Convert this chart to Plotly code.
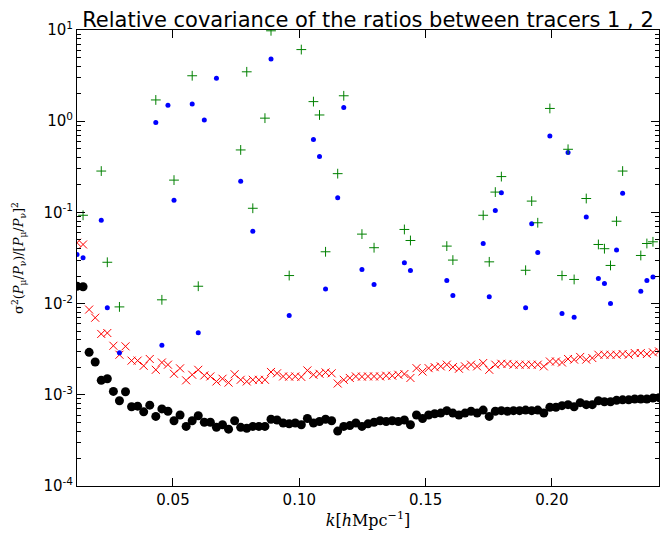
import plotly.graph_objects as go

# Wavenumber bins [h/Mpc]
k = [0.0120, 0.0144, 0.0168, 0.0192, 0.0216, 0.0240, 0.0264, 0.0288, 0.0312, 0.0336,
     0.0360, 0.0384, 0.0408, 0.0432, 0.0456, 0.0480, 0.0504, 0.0528, 0.0552, 0.0576,
     0.0600, 0.0624, 0.0648, 0.0672, 0.0696, 0.0720, 0.0744, 0.0768, 0.0792, 0.0816,
     0.0840, 0.0864, 0.0888, 0.0912, 0.0936, 0.0960, 0.0984, 0.1008, 0.1032, 0.1056,
     0.1080, 0.1104, 0.1128, 0.1152, 0.1176, 0.1200, 0.1224, 0.1248, 0.1272, 0.1296,
     0.1320, 0.1344, 0.1368, 0.1392, 0.1416, 0.1440, 0.1464, 0.1488, 0.1512, 0.1536,
     0.1560, 0.1584, 0.1608, 0.1632, 0.1656, 0.1680, 0.1704, 0.1728, 0.1752, 0.1776,
     0.1800, 0.1824, 0.1848, 0.1872, 0.1896, 0.1920, 0.1944, 0.1968, 0.1992, 0.2016,
     0.2040, 0.2064, 0.2088, 0.2112, 0.2136, 0.2160, 0.2184, 0.2208, 0.2232, 0.2256,
     0.2280, 0.2304, 0.2328, 0.2352, 0.2376, 0.2400, 0.2424]

# Relative variance of the ratio (black circles)
var_black = [0.0155, 0.0153, 0.00292, 0.00229, 0.00144, 0.00150, 0.00109, 0.00086, 0.00108, 0.00074,
             0.00075, 0.00065, 0.00077, 0.00058, 0.00070, 0.00066, 0.00052, 0.00060, 0.00045, 0.00052,
             0.00059, 0.00050, 0.00050, 0.00044, 0.00047, 0.00042, 0.00052, 0.00044, 0.00043, 0.00045,
             0.00045, 0.00045, 0.00054, 0.00053, 0.00049, 0.00048, 0.00049, 0.00047, 0.00055, 0.00049,
             0.00051, 0.00054, 0.00052, 0.00040, 0.00045, 0.00046, 0.00049, 0.00045, 0.00048, 0.00050,
             0.00052, 0.00051, 0.00052, 0.00051, 0.00053, 0.00047, 0.00060, 0.00055, 0.00060, 0.00062,
             0.00063, 0.00067, 0.00063, 0.00060, 0.00063, 0.00066, 0.00063, 0.00068, 0.00058, 0.00066,
             0.00067, 0.00066, 0.00067, 0.00067, 0.00068, 0.00067, 0.00068, 0.00063, 0.00073, 0.00073,
             0.00076, 0.00078, 0.00074, 0.00082, 0.00078, 0.00078, 0.00086, 0.00084, 0.00084, 0.00087,
             0.00088, 0.00088, 0.00090, 0.00090, 0.00090, 0.00092, 0.00093]

# Second estimator (red crosses)
var_red = [0.0465, 0.0445, 0.0086, 0.0070, 0.00465, 0.00476, 0.00345, 0.00275, 0.00340, 0.00237,
           0.00237, 0.00208, 0.00247, 0.00188, 0.00226, 0.00214, 0.00170, 0.00195, 0.00144, 0.00166,
           0.00188, 0.00163, 0.00159, 0.00140, 0.00150, 0.00136, 0.00168, 0.00146, 0.00140, 0.00146,
           0.00146, 0.00146, 0.00178, 0.00172, 0.00159, 0.00158, 0.00159, 0.00157, 0.00185, 0.00166,
           0.00170, 0.00176, 0.00172, 0.00133, 0.00146, 0.00153, 0.00159, 0.00158, 0.00159, 0.00159,
           0.00159, 0.00162, 0.00162, 0.00166, 0.00169, 0.00153, 0.00196, 0.00180, 0.00196, 0.00201,
           0.00205, 0.00214, 0.00201, 0.00193, 0.00205, 0.00214, 0.00205, 0.00223, 0.00188, 0.00214,
           0.00219, 0.00218, 0.00214, 0.00214, 0.00214, 0.00214, 0.00214, 0.00205, 0.00232, 0.00232,
           0.00226, 0.00247, 0.00243, 0.00260, 0.00243, 0.00253, 0.00275, 0.00275, 0.00275, 0.00275,
           0.00280, 0.00275, 0.00287, 0.00287, 0.00280, 0.00292, 0.00299]

# Off-diagonal terms, positive values only (blue dots)
k_blue = [0.0120, 0.0144, 0.0216, 0.0240, 0.0288, 0.0432, 0.0456, 0.0480, 0.0504, 0.0576,
          0.0600, 0.0624, 0.0672, 0.0768, 0.0816, 0.0888, 0.0960, 0.1056, 0.1080, 0.1104,
          0.1152, 0.1176, 0.1248, 0.1296, 0.1416, 0.1440, 0.1584, 0.1608, 0.1728, 0.1752,
          0.1776, 0.1800, 0.1896, 0.1920, 0.1944, 0.1992, 0.2040, 0.2064, 0.2088, 0.2136,
          0.2184, 0.2208, 0.2232, 0.2256, 0.2280, 0.2352, 0.2376, 0.2400]
cov_blue = [0.0346, 0.0318, 0.082, 0.0090, 0.0029, 0.97, 0.0035, 1.50, 0.136, 1.54,
            0.0048, 1.03, 2.95, 0.22, 0.062, 4.8, 0.0074, 0.63, 0.41, 0.0145,
            0.145, 1.41, 0.0236, 0.0162, 0.028, 0.0231, 0.0179, 0.0123, 0.0456, 0.0119,
            0.105, 0.164, 0.0090, 0.075, 0.0363, 0.69, 0.0078, 0.453, 0.0071, 0.089,
            0.0188, 0.0166, 0.0100, 0.0386, 0.162, 0.0137, 0.0179, 0.0196]

# Off-diagonal terms, positive values only (green plus)
k_green = [0.0144, 0.0216, 0.0240, 0.0288, 0.0432, 0.0456, 0.0504, 0.0576, 0.0600, 0.0768,
           0.0792, 0.0816, 0.0864, 0.0888, 0.0960, 0.1008, 0.1056, 0.1080, 0.1104, 0.1152,
           0.1176, 0.1248, 0.1296, 0.1416, 0.1440, 0.1584, 0.1608, 0.1728, 0.1752, 0.1776,
           0.1800, 0.1896, 0.1920, 0.1944, 0.1992, 0.2040, 0.2064, 0.2088, 0.2136, 0.2184,
           0.2208, 0.2232, 0.2256, 0.2280, 0.2352, 0.2376, 0.2400]
cov_green = [0.093, 0.284, 0.0284, 0.0092, 1.71, 0.011, 0.226, 3.15, 0.0155, 0.484,
             3.48, 0.111, 1.08, 9.8, 0.0203, 6.1, 1.64, 1.17, 0.037, 0.266,
             1.90, 0.0578, 0.041, 0.065, 0.0492, 0.0427, 0.030, 0.093, 0.0287, 0.167,
             0.247, 0.0232, 0.133, 0.077, 1.38, 0.0203, 0.492, 0.0184, 0.142, 0.0445,
             0.040, 0.0262, 0.080, 0.284, 0.0337, 0.0456, 0.0476]

xticks = [0.05, 0.10, 0.15, 0.20]
xtick_text = ["0.05", "0.10", "0.15", "0.20"]
yticks = [1e-4, 1e-3, 1e-2, 1e-1, 1e0, 1e1]
ytick_text = ["10<sup>-4</sup>", "10<sup>-3</sup>", "10<sup>-2</sup>",
              "10<sup>-1</sup>", "10<sup>0</sup>", "10<sup>1</sup>"]
yminor = [m * 10.0 ** e for e in range(-4, 1) for m in range(2, 10)]

fig = go.Figure()
fig.add_trace(go.Scatter(x=k, y=var_black, mode="markers",
                         marker=dict(symbol="circle", size=9, color="black",
                                     line=dict(width=0))))
fig.add_trace(go.Scatter(x=k, y=var_red, mode="markers",
                         marker=dict(symbol="x-thin", size=8, color="red",
                                     line=dict(width=1, color="red"))))
fig.add_trace(go.Scatter(x=k_blue, y=cov_blue, mode="markers",
                         marker=dict(symbol="circle", size=5, color="blue",
                                     line=dict(width=0))))
fig.add_trace(go.Scatter(x=k_green, y=cov_green, mode="markers",
                         marker=dict(symbol="cross-thin", size=7, color="green",
                                     line=dict(width=1, color="green"))))

axis_common = dict(showline=True, linecolor="black", linewidth=1, mirror="ticks",
                   ticks="inside", ticklen=8, tickwidth=1, tickcolor="black",
                   showgrid=False, zeroline=False,
                   tickfont=dict(family="DejaVu Sans", size=15, color="black"))

fig.update_xaxes(range=[0.0120, 0.2424], tickvals=xticks, ticktext=xtick_text,
                 title=dict(text="<i>k</i>[<i>h</i>Mpc<sup>−1</sup>]",
                            font=dict(family="DejaVu Serif", size=16, color="black"),
                            standoff=6),
                 **axis_common)
fig.update_yaxes(type="log", range=[-4, 1], tickvals=yticks, ticktext=ytick_text,
                 minor=dict(tickvals=yminor, ticks="inside", ticklen=4, tickwidth=1,
                            tickcolor="black"),
                 title=dict(text="σ<sup>2</sup>(<i>P</i><sub>μ</sub>/<i>P</i><sub>ν</sub>)/"
                                 "[<i>P</i><sub>μ</sub>/<i>P</i><sub>ν</sub>]<sup>2</sup>",
                            font=dict(family="DejaVu Serif", size=13, color="black"),
                            standoff=16),
                 **axis_common)

fig.update_layout(
    width=660, height=534,
    margin=dict(l=77, r=1, t=30, b=48),
    paper_bgcolor="white", plot_bgcolor="white",
    showlegend=False,
    title=dict(text="Relative covariance of the ratios between tracers 1 , 2",
               font=dict(family="DejaVu Sans", size=21, color="black"),
               x=0.5, xanchor="center", xref="paper",
               y=1, yref="paper", yanchor="bottom", pad=dict(b=3)),
)

fig.write_html("out.html")
